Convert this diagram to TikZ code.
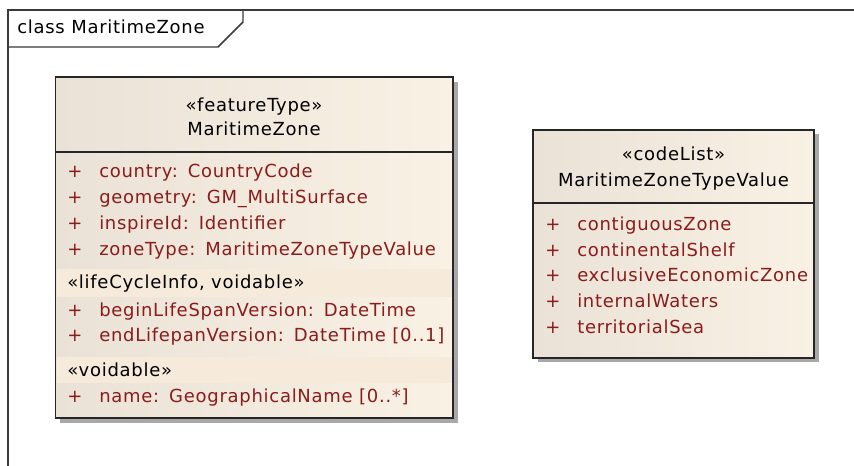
\documentclass[tikz,border=0pt]{standalone}
\usepackage{fontspec}
\setmainfont[LetterSpace=4]{DejaVu Sans}
\usetikzlibrary{calc}
\definecolor{framec}{HTML}{3A3A3A}
\definecolor{boxl}{HTML}{EAE2D6}
\definecolor{boxr}{HTML}{FAF1E5}
\definecolor{bandc}{HTML}{F6EBDA}
\definecolor{attrc}{HTML}{8A1C1C}
\definecolor{shadowc}{HTML}{A8A8A8}
\newcommand{\cgap}{:\hspace{0.55em}}
\tikzset{
  txt/.style={inner sep=0pt, anchor=west, font=\fontsize{13.5}{15}\selectfont, text height=1.4ex, text depth=0.3ex},
  attr/.style={txt, text=attrc},
  hdr/.style={inner sep=0pt, anchor=center, font=\fontsize{13.5}{15}\selectfont, text height=1.4ex, text depth=0.3ex},
  boxline/.style={draw=black!85, line width=1.1pt},
}
\begin{document}
\begin{tikzpicture}[x=0.75pt,y=-0.75pt]
\useasboundingbox (0,0) rectangle (854,466);
\fill[white] (0,0) rectangle (854,466);
% frame
\draw[framec, line width=1.6pt] (854,10) -- (8,10) -- (8,466);
\draw[framec, line width=1.1pt] (8,47) -- (218,47) -- (243,22) -- (243,10);
\node[txt] (title) at (17,29) {class MaritimeZone};

% box 1
\fill[shadowc] (60,82) rectangle (458,423);
\shade[left color=boxl, right color=boxr] (55.5,77) rectangle (453,418);
\fill[bandc] (56.5,269) rectangle (452,297);
\fill[bandc] (56.5,357) rectangle (452,383);
\draw[boxline] (55.5,77) rectangle (453,418);
\draw[boxline] (55.5,152) -- (453,152);
\node[hdr] (b1s) at (254,107) {«featureType»};
\node[hdr] (b1n) at (254,131) {MaritimeZone};
\foreach \y/\t [count=\i] in {173/{country\cgap CountryCode},199/{geometry\cgap GM\_MultiSurface},225/{inspireId\cgap Identifier},251/{zoneType\cgap MaritimeZoneTypeValue},312/{beginLifeSpanVersion\cgap DateTime},337/{endLifepanVersion\cgap DateTime [0..1]},398/{name\cgap GeographicalName [0..*]}}{
  \node[attr] (p1\i) at (67,\y) {+};
  \node[attr] (a1\i) at (99,\y) {\t};
}
\node[txt] (st1) at (67,284) {«lifeCycleInfo, voidable»};
\node[txt] (st2) at (67,372) {«voidable»};

% box 2
\fill[shadowc] (537.5,134) rectangle (818.5,362);
\shade[left color=boxl, right color=boxr] (533,130) rectangle (814,358);
\draw[boxline] (533,130) rectangle (814,358);
\draw[boxline] (533,203) -- (814,203);
\node[hdr] (b2s) at (673.5,156) {«codeList»};
\node[hdr] (b2n) at (673.5,182) {MaritimeZoneTypeValue};
\foreach \y/\t [count=\i] in {226/contiguousZone,252/continentalShelf,277/exclusiveEconomicZone,303/internalWaters,329/territorialSea}{
  \node[attr] (p2\i) at (545,\y) {+};
  \node[attr] (a2\i) at (577,\y) {\t};
}
\end{tikzpicture}
\end{document}
